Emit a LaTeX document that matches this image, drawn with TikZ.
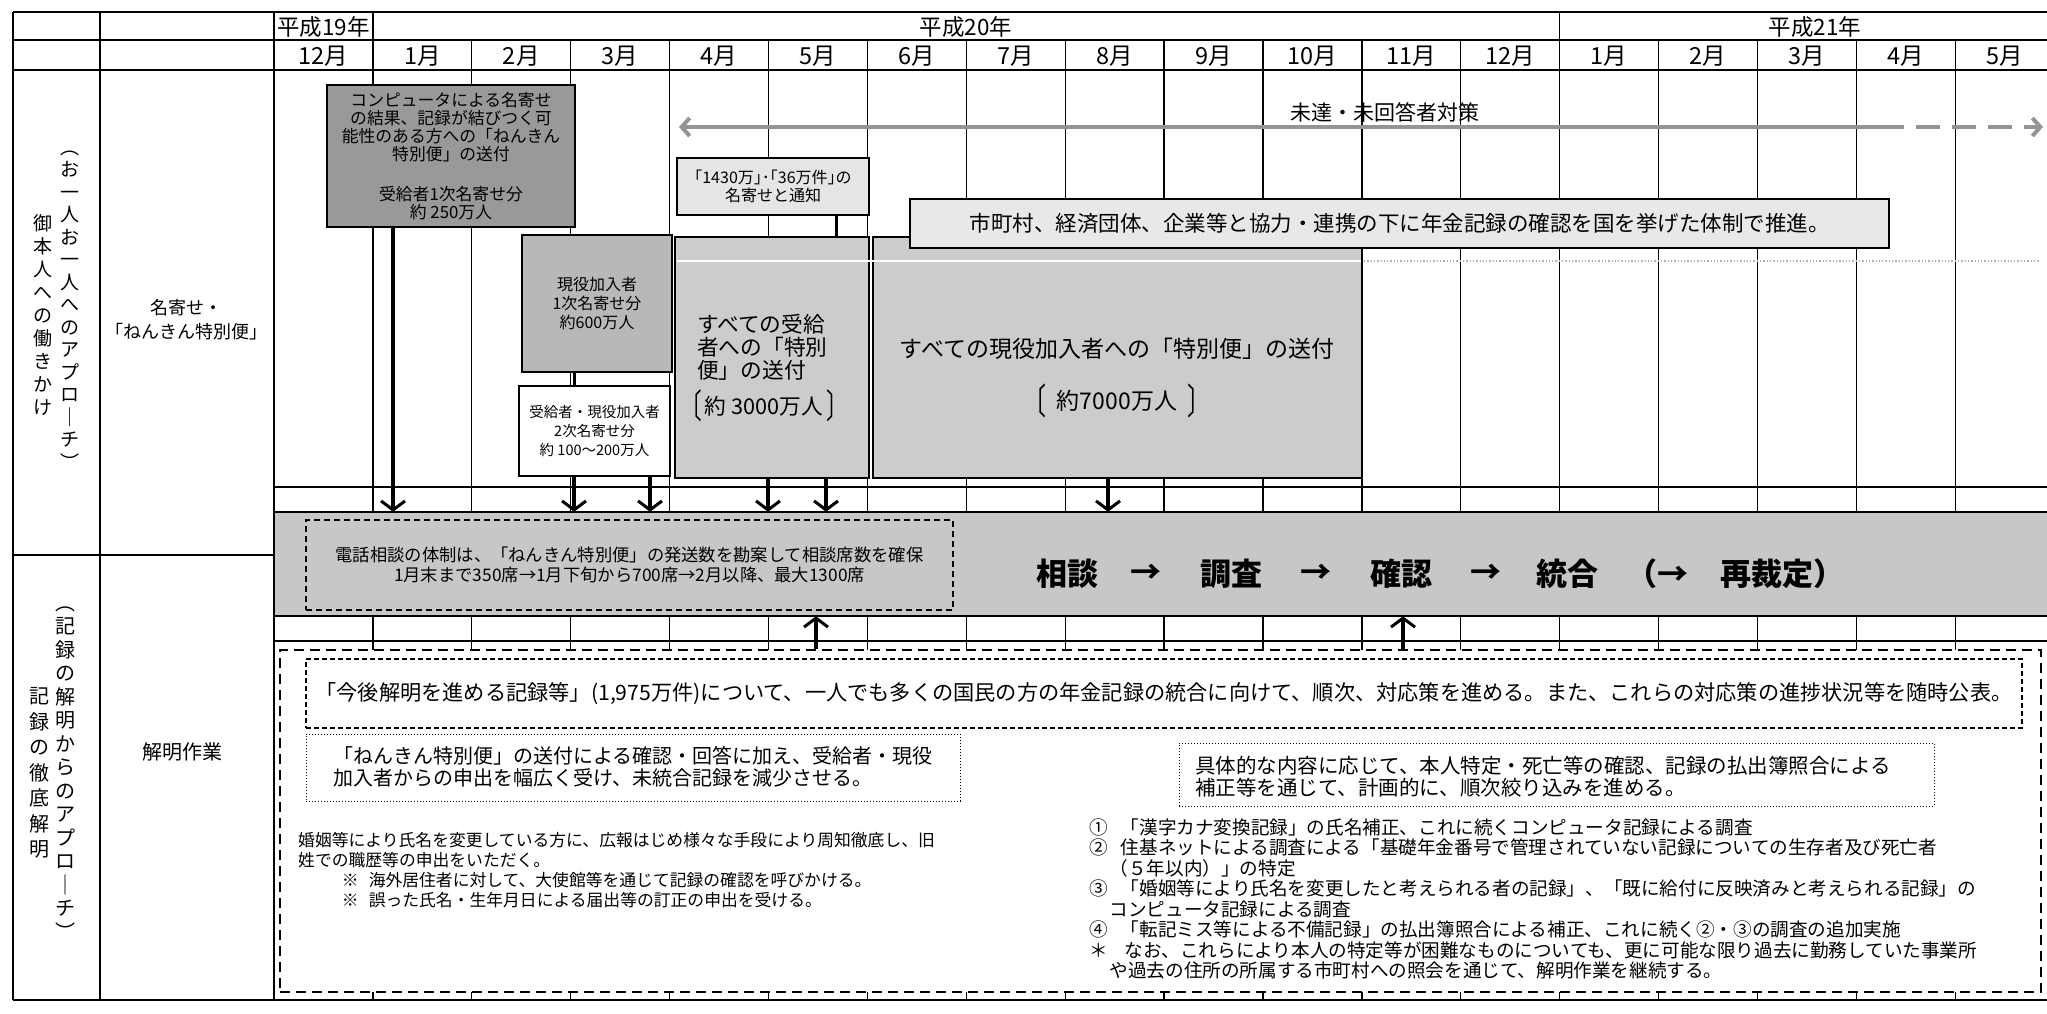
\documentclass[tikz,border=0pt]{standalone}
\usepackage{fontspec}
\usepackage{graphicx}
\setmainfont{Noto Sans CJK JP}
\usetikzlibrary{arrows.meta}
\definecolor{gA}{gray}{0.60}
\definecolor{gB}{gray}{0.72}
\definecolor{gE}{gray}{0.80}
\definecolor{gBand}{gray}{0.78}
\definecolor{gD}{gray}{0.90}
\definecolor{gG}{gray}{0.91}
\newcommand{\myfs}[2]{\fontsize{#1pt}{#2pt}\selectfont}
\newcommand{\lbk}{\raisebox{-0.22em}{\scalebox{1}[1.55]{〔}}}
\newcommand{\rbk}{\raisebox{-0.22em}{\scalebox{1}[1.55]{〕}}}
\begin{document}
\begin{tikzpicture}[x=1pt,y=-1pt,
  gridln/.style={line width=1.3pt},
  frameln/.style={line width=2.4pt},
  bx/.style={draw=black, line width=2pt, inner sep=0pt, align=center},
  arr/.style={line width=4.5pt, -{Straight Barb[length=9pt,width=24pt,line width=3pt]}},
  txt/.style={inner sep=0pt, align=center},
]
\fill[white] (0,0) rectangle (2047,1013);
\useasboundingbox (0,0) rectangle (2047,1013);

% ---------- grid ----------
\foreach \i in {1,...,17}{
  \draw[gridln] ({274+98.9*\i},40) -- ({274+98.9*\i},512);
  \draw[gridln] ({274+98.9*\i},616) -- ({274+98.9*\i},650);
  \draw[gridln] ({274+98.9*\i},992) -- ({274+98.9*\i},1000);
}
\draw[gridln] (372.9,12) -- (372.9,40);
\draw[gridln] (1559.7,12) -- (1559.7,40);
\draw[frameln] (13,12) -- (2047,12);
\draw[frameln] (13,40) -- (2047,40);
\draw[frameln] (13,70) -- (2047,70);
\draw[gridln] (274,487) -- (2047,487);
\draw[frameln] (13,555) -- (274,555);
\draw[gridln] (274,641) -- (2047,641);
\draw[frameln] (13,1000) -- (2047,1000);
\draw[frameln] (13,12) -- (13,1000);
\draw[frameln] (100,12) -- (100,1000);
\draw[frameln] (274,12) -- (274,1000);

% ---------- header ----------
\node[txt, font=\myfs{22.5}{22.5}] (y19) at (323.5,26.5) {平成19年};
\node[txt, font=\myfs{22.5}{22.5}] (y20) at (966,26.5) {平成20年};
\node[txt, font=\myfs{22.5}{22.5}] (y21) at (1815,26.5) {平成21年};
\foreach \i/\t in {0/12月,1/1月,2/2月,3/3月,4/4月,5/5月,6/6月,7/7月,8/8月,9/9月,10/10月,11/11月,12/12月,13/1月,14/2月,15/3月,16/4月,17/5月}{
  \node[txt, font=\myfs{23.5}{23.5}] (mo\i) at ({274+98.9*\i+49.45},56) {\t};
}

% ---------- left columns ----------
\node[txt, font=\myfs{19}{22.5}] (v1) at (70,310) {︵\\お\\一\\人\\お\\一\\人\\へ\\の\\ア\\プ\\ロ\\｜\\チ\\︶};
\node[txt, font=\myfs{19}{23}] (v2) at (43,315) {御\\本\\人\\へ\\の\\働\\き\\か\\け};
\node[txt, font=\myfs{18}{24}] (c1) at (186,320) {名寄せ・\\「ねんきん特別便」};
\node[txt, font=\myfs{20}{23.5}] (v3) at (65,773) {︵\\記\\録\\の\\解\\明\\か\\ら\\の\\ア\\プ\\ロ\\｜\\チ\\︶};
\node[txt, font=\myfs{20}{25.5}] (v4) at (39,773) {記\\録\\の\\徹\\底\\解\\明};
\node[txt, font=\myfs{20}{20}] (c2) at (182,752) {解明作業};

% ---------- long arrow ----------
\coordinate (hL) at (679,127);
\coordinate (hM) at (1880,127);
\coordinate (hR) at (2043,127);
\draw[line width=4pt, black!42, {Straight Barb[length=8pt,width=18pt]}-] (hL) -- (hM);
\draw[line width=4pt, black!42, dash pattern=on 24pt off 12pt, -{Straight Barb[length=8pt,width=18pt]}] (hM) -- (hR);
\node[txt, font=\myfs{21}{21}] (hlab) at (1385,112) {未達・未回答者対策};

% ---------- upper boxes ----------
\node[bx, fill=gA, minimum width=248pt, minimum height=142pt, font=\myfs{16.8}{18}] (A) at (451,156)
  {コンピュータによる名寄せ\\の結果、記録が結びつく可\\能性のある方への「ねんきん\\特別便」の送付\\[22pt]受給者1次名寄せ分\\約 250万人};
\node[bx, fill=gB, minimum width=150pt, minimum height=137pt, font=\myfs{16}{19}] (B) at (597,303.5)
  {現役加入者\\1次名寄せ分\\約600万人};
\node[bx, fill=white, minimum width=151pt, minimum height=90pt, font=\myfs{14.5}{19}] (C) at (594.5,431)
  {受給者・現役加入者\\2次名寄せ分\\約 100～200万人};
\node[bx, fill=gD, minimum width=192pt, minimum height=57pt, font=\myfs{16}{18}] (D) at (773,186.5)
  {｢1430万｣･｢36万件｣の\\名寄せと通知};
\node[bx, fill=gE, minimum width=194pt, minimum height=241pt] (E) at (772,357.5) {};
\node[bx, fill=gE, minimum width=489pt, minimum height=241pt] (F) at (1117.5,357.5) {};
\node[anchor=west, align=left, inner sep=0pt, font=\myfs{21.7}{23}] (Et) at (680,368)
  {\hspace*{17pt}すべての受給\\\hspace*{17pt}者への「特別\\\hspace*{17pt}便」の送付\\[9pt]\lbk\hspace{3pt}約\hspace{5pt}3000万人\hspace{3pt}\rbk};
\node[txt, font=\myfs{23}{27}] (Ft) at (1117,378)
  {すべての現役加入者への「特別便」の送付\\[23pt]\lbk\hspace{10pt}約7000万人\hspace{10pt}\rbk};
\draw[white, line width=2pt] (677,261) -- (1361,261);
\coordinate (fl) at (1364,261);
\coordinate (fr) at (2040,261);
\draw[black!30, line width=1.3pt, dotted] (fl) -- (fr);
\node[bx, fill=gG, minimum width=979pt, minimum height=49pt, font=\myfs{21.5}{21.5}] (G) at (1399.5,223.5)
  {市町村、経済団体、企業等と協力・連携の下に年金記録の確認を国を挙げた体制で推進。};

% ---------- band ----------
\node[fill=gBand, inner sep=0pt, minimum width=1773pt, minimum height=104pt] (band) at (1160.5,564) {};
\draw[line width=2.2pt] (band.north west) -- (band.north east);
\draw[line width=2.2pt] (band.south west) -- (band.south east);
\draw[line width=2.4pt] (band.north west) -- (band.south west);
\node[draw, dash pattern=on 6pt off 4pt, line width=1.6pt, minimum width=647pt, minimum height=90pt, inner sep=0pt, align=center, font=\myfs{17.3}{20}] (J) at (629.5,565)
  {電話相談の体制は、「ねんきん特別便」の発送数を勘案して相談席数を確保\\1月末まで350席→1月下旬から700席→2月以降、最大1300席};
\begin{scope}[every node/.style={anchor=west, inner sep=0pt, font=\myfs{31}{31}\bfseries}]
\node (t1) at (1036,574) {相談};
\node (t2) at (1130,574) {→};
\node (t3) at (1200,574) {調査};
\node (t4) at (1300,574) {→};
\node (t5) at (1370,574) {確認};
\node (t6) at (1470,574) {→};
\node (t7) at (1536,574) {統合};
\node (t8) at (1626,574) {（→};
\node (t9) at (1720,574) {再裁定）};
\end{scope}

% ---------- arrows to band ----------
\coordinate (a1) at (393,0);
\coordinate (a2) at (574,0);
\coordinate (a3) at (650,0);
\coordinate (a4) at (768,0);
\coordinate (a5) at (826,0);
\coordinate (a6) at (1108,0);
\coordinate (a7) at (836,0);
\draw[line width=3pt] (a2 |- B.south) -- (a2 |- C.north);
\draw[line width=3pt] (a7 |- D.south) -- (a7 |- E.north);
\draw[arr] (a1 |- A.south) -- (a1 |- band.north);
\draw[arr] (a2 |- C.south) -- (a2 |- band.north);
\draw[arr] (a3 |- C.south) -- (a3 |- band.north);
\draw[arr] (a4 |- E.south) -- (a4 |- band.north);
\draw[arr] (a5 |- E.south) -- (a5 |- band.north);
\draw[arr] (a6 |- F.south) -- (a6 |- band.north);

% ---------- lower section ----------
\node[draw, fill=white, line width=2.6pt, dash pattern=on 10pt off 6pt, minimum width=1761pt, minimum height=342pt, inner sep=0pt] (low) at (1160.5,821) {};
\coordinate (u1) at (816,0);
\coordinate (u2) at (1403,0);
\draw[arr] (u1 |- low.north) -- (u1 |- band.south);
\draw[arr] (u2 |- low.north) -- (u2 |- band.south);

\node[draw, line width=1.2pt, dash pattern=on 5pt off 3pt, minimum width=1716pt, minimum height=69pt, inner sep=0pt, font=\myfs{21.2}{21.2}] (K1) at (1164,693.5)
  {「今後解明を進める記録等」(1,975万件)について、一人でも多くの国民の方の年金記録の統合に向けて、順次、対応策を進める。また、これらの対応策の進捗状況等を随時公表。};
\node[draw, line width=1pt, dotted, minimum width=654pt, minimum height=67pt, inner sep=0pt] (K2) at (633,767.5) {};
\node[anchor=west, align=left, inner sep=0pt, font=\myfs{20}{22}] (K2t) at (333,767)
  {「ねんきん特別便」の送付による確認・回答に加え、受給者・現役\\加入者からの申出を幅広く受け、未統合記録を減少させる。};
\node[draw, line width=1pt, dotted, minimum width=755pt, minimum height=63pt, inner sep=0pt] (K3) at (1556.5,774.5) {};
\node[anchor=west, align=left, inner sep=0pt, font=\myfs{20.5}{22}] (K3t) at (1195,777)
  {具体的な内容に応じて、本人特定・死亡等の確認、記録の払出簿照合による\\補正等を通じて、計画的に、順次絞り込みを進める。};
\node[anchor=west, align=left, inner sep=0pt, font=\myfs{16.8}{20}] (S) at (298,870)
  {婚姻等により氏名を変更している方に、広報はじめ様々な手段により周知徹底し、旧\\姓での職歴等の申出をいただく。\\\hspace*{2.6em}※\hspace{0.6em}海外居住者に対して、大使館等を通じて記録の確認を呼びかける。\\\hspace*{2.6em}※\hspace{0.6em}誤った氏名・生年月日による届出等の訂正の申出を受ける。};
\node[anchor=west, align=left, inner sep=0pt, font=\myfs{18.6}{20.5}] (L) at (1089,899)
  {①\hspace{0.7em}「漢字カナ変換記録」の氏名補正、これに続くコンピュータ記録による調査\\
   ②\hspace{0.7em}住基ネットによる調査による「基礎年金番号で管理されていない記録についての生存者及び死亡者\\
   \hspace*{1.1em}（５年以内）」の特定\\
   ③\hspace{0.7em}「婚姻等により氏名を変更したと考えられる者の記録」、「既に給付に反映済みと考えられる記録」の\\
   \hspace*{1.1em}コンピュータ記録による調査\\
   ④\hspace{0.7em}「転記ミス等による不備記録」の払出簿照合による補正、これに続く②・③の調査の追加実施\\
   ＊\hspace{0.9em}なお、これらにより本人の特定等が困難なものについても、更に可能な限り過去に勤務していた事業所\\
   \hspace*{1.1em}や過去の住所の所属する市町村への照会を通じて、解明作業を継続する。};
\end{tikzpicture}
\end{document}
